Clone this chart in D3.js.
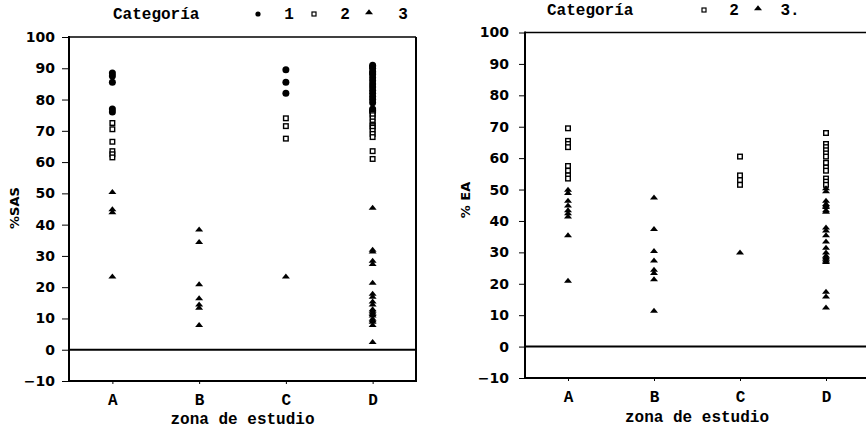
<!DOCTYPE html>
<html>
<head>
<meta charset="utf-8">
<script src="https://cdn.jsdelivr.net/npm/d3@7"></script>
<style>
  body { margin: 0; background: #fff; }
  svg { display: block; }
</style>
</head>
<body>
<div id="vis"></div>
<script>
var w = 866, h = 429; // size of the svg

// zones on the x axis and y tick values
var zones = ["A", "B", "C", "D"];
var yTicks = [-10, 0, 10, 20, 30, 40, 50, 60, 70, 80, 90, 100];

// %SAS values (left chart), one list per category
var sasCat1 = {A: [88.5, 87.5, 85.5, 77, 76], B: [], C: [89.5, 85.5, 82],
  D: [91, 90.5, 90, 89, 88.5, 88, 87, 86, 85, 84, 83, 82, 81, 80, 79, 77, 76.5, 76]};
var sasCat2 = {A: [72.5, 70.5, 66.5, 63.5, 62.5, 61.5], B: [], C: [74, 71.5, 67.5],
  D: [75.5, 75, 74, 73, 72, 71.5, 71, 70, 69, 68, 63.5, 61]};
var sasCat3 = {A: [50.5, 45, 44, 23.5], B: [38.5, 34.5, 21, 16.5, 14.5, 13.5, 8], C: [23.5],
  D: [45.5, 32, 31.5, 28.5, 27.5, 21.5, 18, 17, 15.5, 14.5, 13, 12.5, 12, 11.5, 11, 10, 9.5, 9, 8, 2.5]};

// % EA values (right chart), categories 2 and 3 only
var eaCat2 = {A: [69.5, 65.5, 64.5, 63.5, 57.5, 56, 54.5, 53.5], B: [], C: [60.5, 54.5, 53, 51.5],
  D: [68, 64.5, 63.5, 62.5, 61.5, 60.5, 58.5, 57, 56, 53.5, 52.5, 51.5]};
var eaCat3 = {A: [50, 49, 46.5, 45, 43.5, 42.5, 41.5, 35.5, 21], B: [47.5, 37.5, 30.5, 27.5, 24.5, 23.5, 21.5, 11.5], C: [30],
  D: [50.5, 49.5, 46.5, 45.5, 45, 44.5, 43.5, 43, 38, 37, 35.5, 33.5, 31.5, 30, 29, 28.5, 28, 27.5, 27, 17.5, 16, 12.5]};

var monoFont = "'Liberation Mono', 'Courier New', monospace";
var numFont = "'DejaVu Sans', sans-serif";

var svg = d3.select("#vis").append("svg")
    .attr("width", w)
    .attr("height", h);

var triPath = "M-4,2.2 L0,-2.8 L4,2.2 Z";

// one flat list of points from the per-category lists
function toPoints(obj, cat) {
  var out = [];
  zones.forEach(function(z) {
    (obj[z] || []).forEach(function(v) { out.push({zona: z, v: v, cat: cat}); });
  });
  return out;
}

function drawMarks(g, pts, x, y) {
  g.selectAll("circle.c1").data(pts.filter(function(d){ return d.cat == 1; }))
    .enter().append("circle")
    .attr("class", "c1")
    .attr("cx", function(d){ return x(d.zona); })
    .attr("cy", function(d){ return y(d.v); })
    .attr("r", 3.5)
    .attr("fill", "#000");

  g.selectAll("rect.c2").data(pts.filter(function(d){ return d.cat == 2; }))
    .enter().append("rect")
    .attr("class", "c2")
    .attr("x", function(d){ return x(d.zona) - 2.3; })
    .attr("y", function(d){ return y(d.v) - 2.3; })
    .attr("width", 4.6)
    .attr("height", 4.6)
    .attr("fill", "#fff")
    .attr("stroke", "#000")
    .attr("stroke-width", 1.4);

  g.selectAll("path.c3").data(pts.filter(function(d){ return d.cat == 3; }))
    .enter().append("path")
    .attr("class", "c3")
    .attr("d", triPath)
    .attr("transform", function(d){ return "translate(" + x(d.zona) + "," + y(d.v) + ")"; })
    .attr("fill", "#000");
}

function drawPanel(opt) {
  var g = svg.append("g");

  var x = d3.scalePoint().domain(zones).range([opt.left, opt.right]).padding(0.5);
  var y = d3.scaleLinear().domain([-10, 100]).range([opt.bottom, opt.top]);

  // y axis ticks and labels
  var yAxis = g.append("g")
      .attr("transform", "translate(" + opt.left + ",0)")
      .call(d3.axisLeft(y).tickValues(yTicks).tickSize(opt.tickLen).tickPadding(opt.tickPad));
  yAxis.select(".domain").remove();
  yAxis.selectAll("line").attr("stroke", "#000").attr("stroke-width", 1);
  yAxis.selectAll("text")
      .attr("font-family", numFont)
      .attr("font-weight", "bold")
      .attr("font-size", 14)
      .attr("fill", "#000");

  // x axis labels
  var xAxis = g.append("g")
      .attr("transform", "translate(0," + opt.bottom + ")")
      .call(d3.axisBottom(x).tickSize(3).tickPadding(opt.xPad));
  xAxis.select(".domain").remove();
  xAxis.selectAll("line").attr("stroke", "#000");
  xAxis.selectAll("text")
      .attr("font-family", monoFont)
      .attr("font-weight", "bold")
      .attr("font-size", 16)
      .attr("fill", "#000");

  // frame
  g.append("line").attr("x1", opt.left).attr("x2", opt.left)
      .attr("y1", opt.top - 1).attr("y2", opt.bottom + 1)
      .attr("stroke", "#000").attr("stroke-width", 2);
  g.append("line").attr("x1", opt.left).attr("x2", opt.frameRight)
      .attr("y1", opt.bottom).attr("y2", opt.bottom)
      .attr("stroke", "#000").attr("stroke-width", 2);
  g.append("line").attr("x1", opt.left).attr("x2", opt.frameRight)
      .attr("y1", opt.top).attr("y2", opt.top)
      .attr("stroke", "#000").attr("stroke-width", 1.6);
  if (opt.rightBorder) {
    g.append("line").attr("x1", opt.frameRight).attr("x2", opt.frameRight)
        .attr("y1", opt.top).attr("y2", opt.bottom + 1)
        .attr("stroke", "#000").attr("stroke-width", 2);
  }
  // zero reference line
  g.append("line").attr("x1", opt.left).attr("x2", opt.frameRight)
      .attr("y1", y(0)).attr("y2", y(0))
      .attr("stroke", "#000").attr("stroke-width", 2);

  drawMarks(g, opt.points, x, y);

  // axis titles
  g.append("text")
      .attr("x", (opt.left + opt.right) / 2)
      .attr("y", opt.xTitleY)
      .attr("text-anchor", "middle")
      .attr("font-family", monoFont)
      .attr("font-weight", "bold")
      .attr("font-size", 16)
      .text("zona de estudio");

  g.append("text")
      .attr("transform", "translate(" + opt.yTitleX + "," + opt.yTitleY + ") rotate(-90)")
      .attr("text-anchor", "middle")
      .attr("font-family", numFont)
      .attr("font-weight", "bold")
      .attr("font-size", 13)
      .text(opt.yTitle);

  // legend
  var lg = g.append("g");
  lg.append("text")
      .attr("x", opt.legX).attr("y", opt.legY)
      .attr("font-family", monoFont)
      .attr("font-weight", "bold")
      .attr("font-size", 16)
      .text("Categoría");
  opt.legend.forEach(function(it) {
    if (it.cat == 1) {
      lg.append("circle").attr("cx", it.mx).attr("cy", opt.legY - 5).attr("r", 2.6).attr("fill", "#000");
    } else if (it.cat == 2) {
      lg.append("rect").attr("x", it.mx - 2).attr("y", opt.legY - 7).attr("width", 4).attr("height", 4)
        .attr("fill", "#fff").attr("stroke", "#000").attr("stroke-width", 1.2);
    } else {
      lg.append("path").attr("d", triPath)
        .attr("transform", "translate(" + it.mx + "," + (opt.legY - 7) + ")").attr("fill", "#000");
    }
    lg.append("text")
        .attr("x", it.tx).attr("y", opt.legY)
        .attr("text-anchor", "middle")
        .attr("font-family", monoFont)
        .attr("font-weight", "bold")
        .attr("font-size", 16)
        .text(it.label);
  });
}

drawPanel({
  left: 69, right: 416, frameRight: 416, rightBorder: true,
  top: 37, bottom: 381, tickLen: 7, tickPad: 7, xPad: 10,
  xTitleY: 424, yTitle: "%SAS", yTitleX: 19, yTitleY: 208,
  legX: 113, legY: 19,
  legend: [{cat: 1, mx: 258, tx: 289, label: "1"},
           {cat: 2, mx: 314, tx: 345, label: "2"},
           {cat: 3, mx: 369, tx: 403, label: "3"}],
  points: toPoints(sasCat1, 1).concat(toPoints(sasCat2, 2), toPoints(sasCat3, 3))
});

drawPanel({
  left: 525, right: 869, frameRight: 866, rightBorder: false,
  top: 32.5, bottom: 378, tickLen: 6, tickPad: 10, xPad: 10,
  xTitleY: 422, yTitle: "% EA", yTitleX: 470, yTitleY: 200,
  legX: 547, legY: 15,
  legend: [{cat: 2, mx: 704, tx: 734, label: "2"},
           {cat: 3, mx: 758, tx: 790, label: "3."}],
  points: toPoints(eaCat2, 2).concat(toPoints(eaCat3, 3))
});
</script>
</body>
</html>
